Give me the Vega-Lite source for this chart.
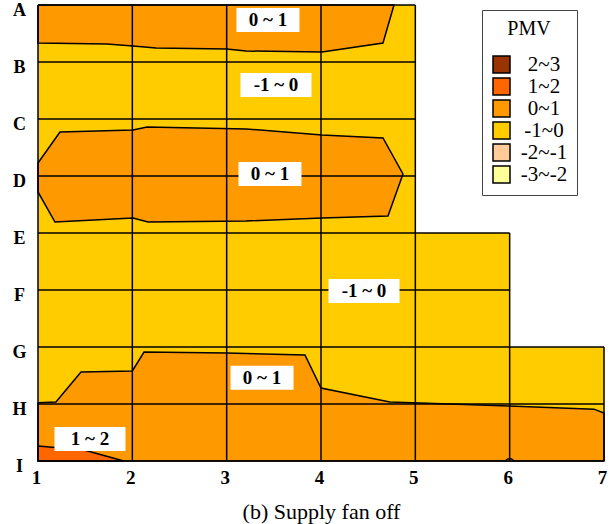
{
  "$schema": "https://vega.github.io/schema/vega-lite/v6.json",
  "width": 566,
  "height": 456,
  "autosize": "none",
  "padding": {"left": 38, "top": 5, "right": 12, "bottom": 63},
  "background": "white",
  "config": {"view": {"stroke": null}, "font": "Liberation Serif"},
  "datasets": {
    "poly": [
      {"id": "bg", "pmv": "-1~0", "i": 0, "x": 1, "y": 0},
      {"id": "bg", "pmv": "-1~0", "i": 1, "x": 5, "y": 0},
      {"id": "bg", "pmv": "-1~0", "i": 2, "x": 5, "y": 4},
      {"id": "bg", "pmv": "-1~0", "i": 3, "x": 6, "y": 4},
      {"id": "bg", "pmv": "-1~0", "i": 4, "x": 6, "y": 6},
      {"id": "bg", "pmv": "-1~0", "i": 5, "x": 7, "y": 6},
      {"id": "bg", "pmv": "-1~0", "i": 6, "x": 7, "y": 8},
      {"id": "bg", "pmv": "-1~0", "i": 7, "x": 1, "y": 8},
      {"id": "bg", "pmv": "-1~0", "i": 8, "x": 1, "y": 0},

      {"id": "p1", "pmv": "0~1", "i": 0, "x": 1, "y": 0},
      {"id": "p1", "pmv": "0~1", "i": 1, "x": 4.774, "y": 0},
      {"id": "p1", "pmv": "0~1", "i": 2, "x": 4.657, "y": 0.667},
      {"id": "p1", "pmv": "0~1", "i": 3, "x": 4.01, "y": 0.825},
      {"id": "p1", "pmv": "0~1", "i": 4, "x": 3.205, "y": 0.807},
      {"id": "p1", "pmv": "0~1", "i": 5, "x": 3.0, "y": 0.772},
      {"id": "p1", "pmv": "0~1", "i": 6, "x": 2.25, "y": 0.754},
      {"id": "p1", "pmv": "0~1", "i": 7, "x": 2.007, "y": 0.72},
      {"id": "p1", "pmv": "0~1", "i": 8, "x": 1.73, "y": 0.684},
      {"id": "p1", "pmv": "0~1", "i": 9, "x": 1, "y": 0.667},
      {"id": "p1", "pmv": "0~1", "i": 10, "x": 1, "y": 0},

      {"id": "p2", "pmv": "0~1", "i": 0, "x": 1, "y": 2.772},
      {"id": "p2", "pmv": "0~1", "i": 1, "x": 1.233, "y": 2.228},
      {"id": "p2", "pmv": "0~1", "i": 2, "x": 2.007, "y": 2.193},
      {"id": "p2", "pmv": "0~1", "i": 3, "x": 2.156, "y": 2.14},
      {"id": "p2", "pmv": "0~1", "i": 4, "x": 3.205, "y": 2.175},
      {"id": "p2", "pmv": "0~1", "i": 5, "x": 4.01, "y": 2.281},
      {"id": "p2", "pmv": "0~1", "i": 6, "x": 4.657, "y": 2.333},
      {"id": "p2", "pmv": "0~1", "i": 7, "x": 4.869, "y": 2.965},
      {"id": "p2", "pmv": "0~1", "i": 8, "x": 4.71, "y": 3.702},
      {"id": "p2", "pmv": "0~1", "i": 9, "x": 4.01, "y": 3.737},
      {"id": "p2", "pmv": "0~1", "i": 10, "x": 3.205, "y": 3.789},
      {"id": "p2", "pmv": "0~1", "i": 11, "x": 2.166, "y": 3.807},
      {"id": "p2", "pmv": "0~1", "i": 12, "x": 2.007, "y": 3.737},
      {"id": "p2", "pmv": "0~1", "i": 13, "x": 1.18, "y": 3.807},
      {"id": "p2", "pmv": "0~1", "i": 14, "x": 1, "y": 3.28},
      {"id": "p2", "pmv": "0~1", "i": 15, "x": 1, "y": 2.772},

      {"id": "p3", "pmv": "0~1", "i": 0, "x": 1, "y": 6.98},
      {"id": "p3", "pmv": "0~1", "i": 1, "x": 1.19, "y": 6.965},
      {"id": "p3", "pmv": "0~1", "i": 2, "x": 1.456, "y": 6.44},
      {"id": "p3", "pmv": "0~1", "i": 3, "x": 2.0, "y": 6.42},
      {"id": "p3", "pmv": "0~1", "i": 4, "x": 2.124, "y": 6.088},
      {"id": "p3", "pmv": "0~1", "i": 5, "x": 3.0, "y": 6.105},
      {"id": "p3", "pmv": "0~1", "i": 6, "x": 3.83, "y": 6.14},
      {"id": "p3", "pmv": "0~1", "i": 7, "x": 4.0, "y": 6.72},
      {"id": "p3", "pmv": "0~1", "i": 8, "x": 4.73, "y": 6.965},
      {"id": "p3", "pmv": "0~1", "i": 9, "x": 5.993, "y": 7.035},
      {"id": "p3", "pmv": "0~1", "i": 10, "x": 6.894, "y": 7.09},
      {"id": "p3", "pmv": "0~1", "i": 11, "x": 7, "y": 7.16},
      {"id": "p3", "pmv": "0~1", "i": 12, "x": 7, "y": 8},
      {"id": "p3", "pmv": "0~1", "i": 13, "x": 1, "y": 8},
      {"id": "p3", "pmv": "0~1", "i": 14, "x": 1, "y": 6.98},

      {"id": "p5", "pmv": "0~1", "i": 0, "x": 5.95, "y": 8},
      {"id": "p5", "pmv": "0~1", "i": 1, "x": 5.98, "y": 7.965},
      {"id": "p5", "pmv": "0~1", "i": 2, "x": 6.02, "y": 7.965},
      {"id": "p5", "pmv": "0~1", "i": 3, "x": 6.05, "y": 8},

      {"id": "p4", "pmv": "1~2", "i": 0, "x": 1, "y": 7.737},
      {"id": "p4", "pmv": "1~2", "i": 1, "x": 1.488, "y": 7.807},
      {"id": "p4", "pmv": "1~2", "i": 2, "x": 1.91, "y": 8},
      {"id": "p4", "pmv": "1~2", "i": 3, "x": 1, "y": 8},
      {"id": "p4", "pmv": "1~2", "i": 4, "x": 1, "y": 7.737}
    ],
    "grid": [
      {"x": 1, "y": 0, "x2": 5, "y2": 0},
      {"x": 1, "y": 1, "x2": 5, "y2": 1},
      {"x": 1, "y": 2, "x2": 5, "y2": 2},
      {"x": 1, "y": 3, "x2": 5, "y2": 3},
      {"x": 1, "y": 4, "x2": 6, "y2": 4},
      {"x": 1, "y": 5, "x2": 6, "y2": 5},
      {"x": 1, "y": 6, "x2": 7, "y2": 6},
      {"x": 1, "y": 7, "x2": 7, "y2": 7},
      {"x": 1, "y": 8, "x2": 7, "y2": 8},
      {"x": 1, "y": 0, "x2": 1, "y2": 8},
      {"x": 2, "y": 0, "x2": 2, "y2": 8},
      {"x": 3, "y": 0, "x2": 3, "y2": 8},
      {"x": 4, "y": 0, "x2": 4, "y2": 8},
      {"x": 5, "y": 0, "x2": 5, "y2": 8},
      {"x": 6, "y": 4, "x2": 6, "y2": 8},
      {"x": 7, "y": 6, "x2": 7, "y2": 8}
    ],
    "labels": [
      {"x": 3.438, "y": 0.263, "label": "0 ~ 1"},
      {"x": 3.523, "y": 1.404, "label": "-1 ~ 0"},
      {"x": 3.459, "y": 2.965, "label": "0 ~ 1"},
      {"x": 4.456, "y": 5.018, "label": "-1 ~ 0"},
      {"x": 3.375, "y": 6.54, "label": "0 ~ 1"},
      {"x": 1.551, "y": 7.614, "label": "1 ~ 2"}
    ]
  },
  "encoding": {
    "x": {
      "field": "x", "type": "quantitative",
      "scale": {"domain": [1, 7], "nice": false, "zero": false},
      "axis": {
        "values": [1, 2, 3, 4, 5, 6, 7], "format": "d",
        "grid": false, "domain": false, "ticks": false,
        "labelFont": "Liberation Serif", "labelFontWeight": "bold", "labelFontSize": 19,
        "labelColor": "black", "labelPadding": 7, "labelOffset": -2,
        "labelFlush": false, "labelOverlap": false, "labelBound": false,
        "title": "(b) Supply fan off", "titleFont": "Liberation Serif",
        "titleFontWeight": "normal", "titleFontSize": 22, "titleColor": "black",
        "titlePadding": 14
      }
    },
    "y": {
      "field": "y", "type": "quantitative",
      "scale": {"domain": [0, 8], "nice": false, "zero": false, "reverse": true},
      "axis": {
        "values": [0, 1, 2, 3, 4, 5, 6, 7, 8],
        "labelExpr": "['A','B','C','D','E','F','G','H','I'][datum.value]",
        "grid": false, "domain": false, "ticks": false,
        "labelFont": "Liberation Serif", "labelFontWeight": "bold", "labelFontSize": 18,
        "labelColor": "black", "labelAlign": "center", "labelBaseline": "middle",
        "labelPadding": 19, "labelOffset": 5,
        "labelFlush": false, "labelOverlap": false, "labelBound": false,
        "title": null
      }
    }
  },
  "layer": [
    {
      "data": {"name": "poly"},
      "transform": [{"filter": "datum.id == 'bg'"}],
      "mark": {"type": "line", "filled": true, "strokeWidth": 0, "interpolate": "linear"},
      "encoding": {
        "color": {
          "field": "pmv", "type": "nominal",
          "scale": {
            "domain": ["2~3", "1~2", "0~1", "-1~0", "-2~-1", "-3~-2"],
            "range": ["#993300", "#FF6600", "#FF9900", "#FFCC00", "#FFCC99", "#FFFF99"]
          },
          "legend": {
            "title": "PMV", "orient": "none", "legendX": 444, "legendY": 5,
            "direction": "vertical", "fillColor": "white", "strokeColor": "#444444",
            "padding": 9,
            "titleFont": "Liberation Serif", "titleFontSize": 20, "titleFontWeight": "normal",
            "titleColor": "black", "titleAnchor": "middle", "titlePadding": 15,
            "labelFont": "Liberation Serif", "labelFontSize": 21, "labelColor": "black",
            "labelAlign": "center", "labelOffset": 32,
            "symbolType": "square", "symbolSize": 289, "symbolStrokeColor": "black",
            "symbolStrokeWidth": 1.5, "symbolOpacity": 1, "rowPadding": -3.5
          }
        },
        "order": {"field": "i", "type": "quantitative"}
      }
    },
    {
      "data": {"name": "poly"},
      "transform": [{"filter": "datum.pmv == '0~1'"}],
      "mark": {"type": "line", "filled": true, "stroke": "black", "strokeWidth": 1.5, "interpolate": "linear"},
      "encoding": {
        "color": {"field": "pmv", "type": "nominal"},
        "detail": {"field": "id"},
        "order": {"field": "i", "type": "quantitative"}
      }
    },
    {
      "data": {"name": "poly"},
      "transform": [{"filter": "datum.pmv == '1~2'"}],
      "mark": {"type": "line", "filled": true, "stroke": "black", "strokeWidth": 1.5, "interpolate": "linear"},
      "encoding": {
        "color": {"field": "pmv", "type": "nominal"},
        "detail": {"field": "id"},
        "order": {"field": "i", "type": "quantitative"}
      }
    },
    {
      "data": {"name": "grid"},
      "mark": {"type": "rule", "color": "black", "strokeWidth": 1.5},
      "encoding": {
        "x2": {"field": "x2"},
        "y2": {"field": "y2"}
      }
    },
    {
      "data": {"name": "labels"},
      "transform": [{"filter": "datum.label == '0 ~ 1'"}],
      "mark": {"type": "point", "filled": true, "fill": "white", "opacity": 1, "strokeWidth": 0,
               "shape": "M-1,-0.381H1V0.381H-1Z", "size": 3969},
      "encoding": {}
    },
    {
      "data": {"name": "labels"},
      "transform": [{"filter": "datum.label != '0 ~ 1'"}],
      "mark": {"type": "point", "filled": true, "fill": "white", "opacity": 1, "strokeWidth": 0,
               "shape": "M-1,-0.338H1V0.338H-1Z", "size": 5041},
      "encoding": {}
    },
    {
      "data": {"name": "labels"},
      "mark": {"type": "text", "font": "Liberation Serif", "fontWeight": "bold", "fontSize": 19,
               "align": "center", "baseline": "middle", "color": "black"},
      "encoding": {"text": {"field": "label"}}
    }
  ]
}
